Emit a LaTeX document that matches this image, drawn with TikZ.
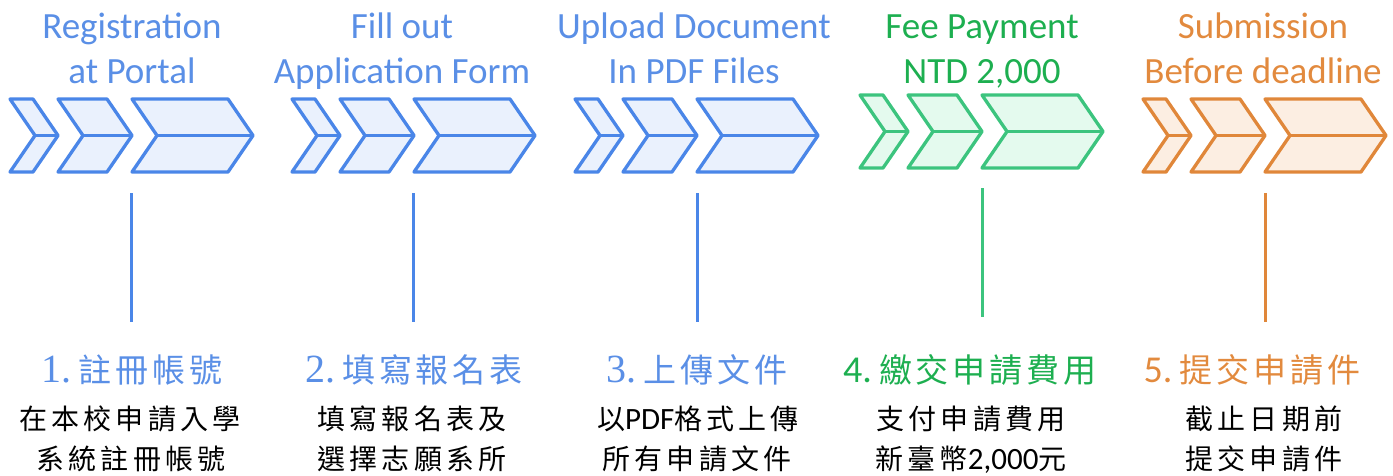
\documentclass[tikz,border=0pt]{standalone}
\usepackage{fontspec}
\newfontfamily\enfont{Carlito}
\newfontfamily\numserif{Liberation Serif}
\newfontfamily\cjkhead[LetterSpace=12]{Noto Sans CJK TC}
\newfontfamily\cjkbody[LetterSpace=15]{Noto Sans CJK TC}

\definecolor{bluestroke}{HTML}{4A86E8}
\definecolor{bluefill}{HTML}{EAF1FD}
\definecolor{bluetext}{HTML}{5A8FE6}
\definecolor{greenstroke}{HTML}{3CC47E}
\definecolor{greenfill}{HTML}{E4FAEE}
\definecolor{greentext}{HTML}{1DAF50}
\definecolor{orangestroke}{HTML}{E0873A}
\definecolor{orangefill}{HTML}{FCEEE2}
\definecolor{orangetext}{HTML}{E28A3E}

\tikzset{
  chev/.style={line width=3.3pt, line join=round},
  stem/.style={line width=3pt},
  title/.style={anchor=base, inner sep=0pt, font=\enfont\fontsize{37}{42}\selectfont},
  headline/.style={anchor=base, inner sep=0pt, font=\fontsize{33}{38}\selectfont},
  bodyline/.style={anchor=base, inner sep=0pt, font=\cjkbody\fontsize{28}{34}\selectfont},
}

% three chevrons of one step; #1 left x, #2 top y, #3 stroke, #4 fill
\newcommand\chevrongroup[4]{%
  \begin{scope}[shift={(#1,#2)}, chev, draw=#3, fill=#4]
    \foreach \L/\w in {0/23, 48/49, 122/96}{
      \filldraw (\L,0) -- (\L+\w,0) -- (\L+\w+25,36.5) -- (\L+\w,73)
        -- (\L,73) -- (\L+25,36.5) -- cycle;
      \draw (\L+25,36.5) -- (\L+\w+25,36.5);
    }
  \end{scope}}

\begin{document}
\begin{tikzpicture}[x=1pt,y=-1pt]
\useasboundingbox (0,0) rectangle (1393,475);

% ---- chevron rows
\chevrongroup{10}{99}{bluestroke}{bluefill}
\chevrongroup{292}{99}{bluestroke}{bluefill}
\chevrongroup{575}{99}{bluestroke}{bluefill}
\chevrongroup{860}{95}{greenstroke}{greenfill}
\chevrongroup{1143}{99}{orangestroke}{orangefill}

% ---- English titles
\node[title, text=bluetext] (t1a) at (132,38) {Registration};
\node[title, text=bluetext] (t1b) at (132,83) {at Portal};
\node[title, text=bluetext] (t2a) at (402,38) {Fill out};
\node[title, text=bluetext] (t2b) at (402,83) {Application Form};
\node[title, text=bluetext] (t3a) at (694,38) {Upload Document};
\node[title, text=bluetext] (t3b) at (694,83) {In PDF Files};
\node[title, text=greentext] (t4a) at (982,38) {Fee Payment};
\node[title, text=greentext] (t4b) at (982,83) {NTD 2,000};
\node[title, text=orangetext] (t5a) at (1263,38) {Submission};
\node[title, text=orangetext] (t5b) at (1263,83) {Before deadline};

% ---- stems
\coordinate (s1t) at (131,193); \coordinate (s1b) at (131,322);
\coordinate (s2t) at (413,193); \coordinate (s2b) at (413,322);
\coordinate (s3t) at (697,193); \coordinate (s3b) at (697,322);
\coordinate (s4t) at (982,188); \coordinate (s4b) at (982,317);
\coordinate (s5t) at (1265,193); \coordinate (s5b) at (1265,322);
\draw[stem, bluestroke] (s1t) -- (s1b);
\draw[stem, bluestroke] (s2t) -- (s2b);
\draw[stem, bluestroke] (s3t) -- (s3b);
\draw[stem, greenstroke] (s4t) -- (s4b);
\draw[stem, orangestroke] (s5t) -- (s5b);

% ---- step headings
\node[headline, text=bluetext] (h1) at (132,382)
  {{\numserif\fontsize{40}{44}\selectfont 1.}\hspace{7pt}{\cjkhead 註冊帳號}};
\node[headline, text=bluetext] (h2) at (414,382)
  {{\numserif\fontsize{40}{44}\selectfont 2.}\hspace{7pt}{\cjkhead 填寫報名表}};
\node[headline, text=bluetext] (h3) at (697,382)
  {{\numserif\fontsize{40}{44}\selectfont 3.}\hspace{7pt}{\cjkhead 上傳文件}};
\node[headline, text=greentext] (h4) at (970,382)
  {{\enfont\fontsize{38}{44}\selectfont 4.}\hspace{7pt}{\cjkhead 繳交申請費用}};
\node[headline, text=orangetext] (h5) at (1252,382)
  {{\enfont\fontsize{38}{44}\selectfont 5.}\hspace{7pt}{\cjkhead 提交申請件}};

% ---- descriptions
\node[bodyline] (d1a) at (130,429) {在本校申請入學};
\node[bodyline] (d1b) at (131,469) {系統註冊帳號};
\node[bodyline] (d2a) at (412,429) {填寫報名表及};
\node[bodyline] (d2b) at (412,469) {選擇志願系所};
\node[bodyline] (d3a) at (698,429) {以{\enfont\fontsize{31}{34}\selectfont PDF}格式上傳};
\node[bodyline] (d3b) at (697,469) {所有申請文件};
\node[bodyline] (d4a) at (971,429) {支付申請費用};
\node[bodyline] (d4b) at (971,469) {新臺幣{\enfont\fontsize{31}{34}\selectfont 2,000}元};
\node[bodyline] (d5a) at (1264,429) {截止日期前};
\node[bodyline] (d5b) at (1264,469) {提交申請件};
\end{tikzpicture}
\end{document}
